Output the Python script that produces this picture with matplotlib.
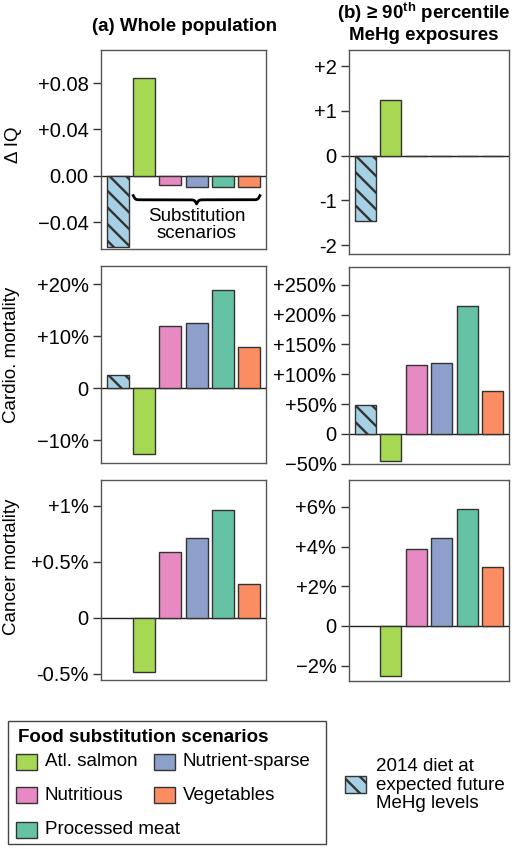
import matplotlib
matplotlib.use('Agg')
import matplotlib.pyplot as plt
import numpy as np
from matplotlib.patches import Rectangle

plt.rcParams['font.family'] = ['Liberation Sans', 'DejaVu Sans']
plt.rcParams['mathtext.fontset'] = 'custom'
plt.rcParams['mathtext.rm'] = 'Liberation Sans'
plt.rcParams['mathtext.bf'] = 'Liberation Sans:bold'
plt.rcParams['hatch.linewidth'] = 1.7
plt.rcParams['hatch.color'] = 'black'

# scenario order: 2014 diet at future MeHg, then the 5 substitutions
scenarios = ['2014 diet at\nexpected future\nMeHg levels', 'Atl. salmon', 'Nutritious',
             'Nutrient-sparse', 'Processed meat', 'Vegetables']
colors = ['#a6d0e4', '#a6d854', '#e78ac3', '#8da0cb', '#66c2a5', '#fc8d62']

# values
iq_whole = [-0.062, 0.084, -0.008, -0.010, -0.010, -0.010]
iq_p90 = [-1.455, 1.24, -0.015, -0.015, -0.015, -0.015]
cardio_whole = [2.5, -12.7, 12.0, 12.6, 18.9, 8.0]
cardio_p90 = [49, -45.3, 115, 119.6, 213.6, 71.6]
cancer_whole = [np.nan, -0.482, 0.592, 0.717, 0.962, 0.301]
cancer_p90 = [np.nan, -2.54, 3.87, 4.43, 5.88, 2.98]

ticks = {
    'iq_whole': ([-0.04, 0, 0.04, 0.08], ['\u22120.04', '0.00', '+0.04', '+0.08']),
    'iq_p90': ([-2, -1, 0, 1, 2], ['-2', '-1', '0', '+1', '+2']),
    'cardio_whole': ([-10, 0, 10, 20], ['\u221210%', '0', '+10%', '+20%']),
    'cardio_p90': ([-50, 0, 50, 100, 150, 200, 250],
                   ['\u221250%', '0', '+50%', '+100%', '+150%', '+200%', '+250%']),
    'cancer_whole': ([-0.5, 0, 0.5, 1], ['-0.5%', '0', '+0.5%', '+1%']),
    'cancer_p90': ([-2, 0, 2, 4, 6], ['\u22122%', '0', '+2%', '+4%', '+6%']),
}

W, H = 515, 849
fig = plt.figure(figsize=(W / 100, H / 100), dpi=100)


def box(x0, y0, x1, y1):
    return [x0 / W, 1 - y1 / H, (x1 - x0) / W, (y1 - y0) / H]


panels = [
    (iq_whole, 'iq_whole', box(101, 50, 266, 249), (-0.0633, 0.1086)),
    (iq_p90, 'iq_p90', box(349, 50, 509, 254), (-2.2, 2.365)),
    (cardio_whole, 'cardio_whole', box(101, 266, 266, 463), (-14.4, 23.5)),
    (cardio_p90, 'cardio_p90', box(349, 267, 509, 464), (-50.3, 279.7)),
    (cancer_whole, 'cancer_whole', box(101, 480, 266, 680), (-0.554, 1.232)),
    (cancer_p90, 'cancer_p90', box(349, 480, 509, 681), (-2.78, 7.36)),
]

xpos = 0.7 + 1.2 * np.arange(len(scenarios))
axes = {}
for vals, key, pos, ylim in panels:
    ax = fig.add_axes(pos)
    bars = ax.bar(xpos, vals, width=1.0, color=colors, edgecolor='#333333', linewidth=1.0)
    bars[0].set_hatch('\\\\')
    ax.axhline(0, color='#222222', lw=1.0, zorder=0.5)
    ax.set_xlim(-0.08, 7.48)
    ax.set_ylim(*ylim)
    ax.set_xticks([])
    tk, lb = ticks[key]
    ax.set_yticks(tk)
    ax.set_yticklabels(lb)
    ax.tick_params(axis='y', length=6, width=1.0, labelsize=14.5, pad=3, color='#333333')
    for s in ax.spines.values():
        s.set_color('#555555')
        s.set_linewidth(1.0)
    axes[key] = ax

# brace under the substitution bars
ax = axes['iq_whole']
x0, x1 = xpos[1] - 0.5, xpos[5] + 0.5
xs = np.linspace(x0, x1, 401)
half = xs[:201]
beta = 22.0
yh = 1 / (1 + np.exp(-beta * (half - half[0]))) + 1 / (1 + np.exp(-beta * (half - half[-1])))
yb = np.concatenate([yh, yh[-2::-1]])
ax.plot(xs, -0.0172 - (yb - 0.5) * 0.0072, color='black', lw=2.0, clip_on=False)
xm = (x0 + x1) / 2
ax.text(xm, -0.0275, 'Substitution\nscenarios', ha='center', va='top', fontsize=13.5,
        linespacing=1.05)

# overlay for titles, labels and legend (pixel coordinates)
ov = fig.add_axes([0, 0, 1, 1], zorder=-1)
ov.set_xlim(0, W)
ov.set_ylim(H, 0)
ov.axis('off')

ov.text(184.5, 26, '(a) Whole population', ha='center', va='center', fontsize=13.5,
        fontweight='bold')
ov.text(424, 13, r'(b) ≥ 90$^{\mathbf{th}}$ percentile', ha='center', va='center',
        fontsize=13.5, fontweight='bold')
ov.text(424, 35, 'MeHg exposures', ha='center', va='center', fontsize=13.5,
        fontweight='bold')

ov.text(13, 145, '\u0394 IQ', rotation=90, ha='center', va='center', fontsize=13.5)
ov.text(12, 355, 'Cardio. mortality', rotation=90, ha='center', va='center', fontsize=13.5)
ov.text(12, 567, 'Cancer mortality', rotation=90, ha='center', va='center', fontsize=13.5)

# legend box
ov.add_patch(Rectangle((7.5, 721), 318, 123, facecolor='white', edgecolor='#444444', lw=1.0))
ov.text(18, 737.5, 'Food substitution scenarios', ha='left', va='center', fontsize=13.5,
        fontweight='bold')
slots = {1: (16, 762), 2: (16, 795), 4: (16, 830), 3: (153.5, 762), 5: (153.5, 795)}
for i, (sx, sy) in slots.items():
    ov.add_patch(Rectangle((sx, sy - 8), 21, 16, facecolor=colors[i], edgecolor='#333333',
                           lw=1.0))
    ov.text(sx + 29, sy, scenarios[i], ha='left', va='center', fontsize=13.5)

ov.add_patch(Rectangle((344.5, 775.5), 21, 17, facecolor=colors[0], edgecolor='#333333',
                       lw=1.0, hatch='\\\\'))
ov.text(376, 785, scenarios[0], ha='left', va='center', fontsize=13.5, linespacing=1.1)

fig.savefig('out.png', dpi=100)
